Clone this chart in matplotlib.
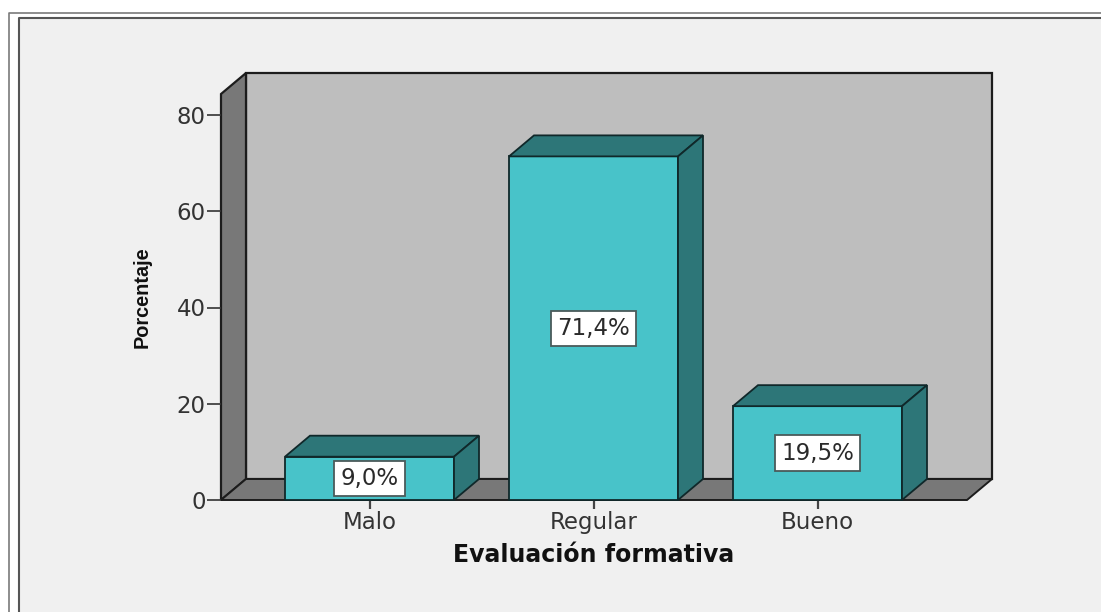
import matplotlib
matplotlib.use("Agg")
import matplotlib.pyplot as plt
from matplotlib.patches import Polygon, Rectangle
from matplotlib.lines import Line2D

categories = ["Malo", "Regular", "Bueno"]
values = [9.0, 71.4, 19.5]
labels = ["9,0%", "71,4%", "19,5%"]
yticks = [0, 20, 40, 60, 80]
xlabel = "Evaluación formativa"
ylabel = "Porcentaje"

W, H = 1101, 612
fig = plt.figure(figsize=(W / 100, H / 100), dpi=100, facecolor="#ffffff")


def fx(p):
    return p / W


def fy(p):
    return 1 - p / H


# outer window frames
fig.add_artist(Rectangle((fx(19), 0), 1 - fx(19), fy(18), transform=fig.transFigure,
                         facecolor="#f0f0f0", edgecolor="none", zorder=-2))
fig.add_artist(Line2D([fx(8.5), fx(8.5), 1], [0, fy(13), fy(13)], color="#7a7a7a", lw=1.2, zorder=-1))
fig.add_artist(Line2D([fx(19), fx(19), 1], [0, fy(18), fy(18)], color="#555555", lw=1.5, zorder=-1))

ax = fig.add_axes([fx(221), fy(500), 746 / W, 406 / H])
ax.patch.set_visible(False)
sp = 224.0
ppu = 385 / 80
ax.set_xlim((221 - 369.5) / sp, (967 - 369.5) / sp)
ax.set_ylim(0, 406 / ppu)
dx, dy = 25 / sp, 21 / ppu
x0, x1 = ax.get_xlim()
y0, y1 = ax.get_ylim()
edge = "#1c1c1c"

ax.add_patch(Rectangle((x0 + dx, y0 + dy), x1 - x0, y1 - y0, facecolor="#bebebe",
                       edgecolor=edge, lw=1.6, clip_on=False, zorder=1))
ax.add_patch(Polygon([(x0, y0), (x0 + dx, y0 + dy), (x0 + dx, y1 + dy), (x0, y1)],
                     facecolor="#787878", edgecolor=edge, lw=1.6, clip_on=False, zorder=1.5))
ax.add_patch(Polygon([(x0, y0), (x1, y0), (x1 + dx, y0 + dy), (x0 + dx, y0 + dy)],
                     facecolor="#787878", edgecolor=edge, lw=1.4, clip_on=False, zorder=1.5))

bw = 169 / sp
for i, v in enumerate(values):
    l, r = i - bw / 2, i + bw / 2
    ax.bar(i, v, width=bw, color="#48c3c9", edgecolor="#10282a", linewidth=1.3, zorder=3,
           clip_on=False)
    ax.add_patch(Polygon([(l, v), (r, v), (r + dx, v + dy), (l + dx, v + dy)],
                         facecolor="#2d7678", edgecolor="#10282a", lw=1.3, clip_on=False, zorder=3))
    ax.add_patch(Polygon([(r, 0), (r + dx, dy), (r + dx, v + dy), (r, v)],
                         facecolor="#2d7678", edgecolor="#10282a", lw=1.3, clip_on=False, zorder=3))
    ax.text(i, v / 2, labels[i], ha="center", va="center", fontsize=16.5, color="#2a2a2a",
            family="DejaVu Sans", zorder=5,
            bbox=dict(boxstyle="square,pad=0.27", facecolor="white", edgecolor="#4a5a5a", lw=1.3))

for s in ax.spines.values():
    s.set_visible(False)
ax.set_xticks(range(len(categories)), categories)
ax.set_yticks(yticks)
ax.tick_params(axis="y", length=10, width=1.2, color="#333333", labelsize=16.5, labelcolor="#333333", pad=1)
ax.tick_params(axis="x", length=6.5, width=1.6, color="#444444", labelsize=16.5, labelcolor="#333333", pad=1.5)
for t in ax.get_xticklabels() + ax.get_yticklabels():
    t.set_family("DejaVu Sans")

fig.text(fx(594), fy(555), xlabel, ha="center", va="center", fontsize=17,
         fontweight="bold", color="#111111", family="DejaVu Sans")
fig.text(fx(142), fy(297), ylabel, ha="center", va="center", rotation=90, fontsize=14.3,
         fontweight="bold", color="#111111", family=["Liberation Sans Narrow", "Liberation Sans"])

fig.savefig("out.png", dpi=100, facecolor=fig.get_facecolor())
